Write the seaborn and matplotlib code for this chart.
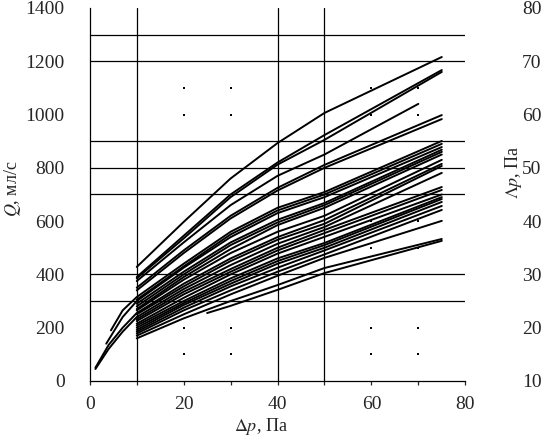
import pandas as pd
import matplotlib.pyplot as plt
import seaborn as sns

# Q, ml/s at pressure drops dp (Pa)
dp = [10, 20, 30, 40, 50, 75]
dp_70 = [10, 20, 30, 40, 50, 70]
dp_left_a = [1.2, 4, 7, 10, 20, 30, 40, 50, 75]
dp_left_b = [3.5, 7, 10, 20, 30, 40, 50, 75]
dp_left_c = [4.5, 7, 10, 20, 30, 40, 50, 75]
dp_late = [25, 30, 40, 50, 75]

q01 = [428, 597, 760, 893, 1006, 1216]
q02 = [390, 545, 700, 820, 923, 1167]
q03 = [385, 535, 690, 812, 905, 1160]
q04 = [375, 520, 660, 770, 850, 1040]
q05 = [350, 490, 620, 725, 811, 998]
q06 = [340, 480, 610, 715, 800, 983]
q07 = [190, 265, 315, 440, 560, 650, 709, 901]
q08 = [305, 430, 550, 640, 700, 890]
q09 = [140, 240, 300, 425, 540, 630, 690, 878]
q10 = [290, 410, 520, 605, 668, 868]
q11 = [280, 400, 510, 595, 660, 860]
q12 = [270, 390, 495, 585, 650, 850]
q13 = [265, 380, 480, 560, 620, 830]
q14 = [50, 135, 200, 255, 365, 460, 540, 604, 815]
q15 = [250, 355, 450, 530, 590, 807]
q16 = [45, 120, 185, 240, 345, 435, 515, 578, 781]
q17 = [232, 335, 420, 500, 567, 728]
q18 = [225, 325, 410, 490, 555, 717]
q19 = [215, 312, 400, 478, 541, 700]
q20 = [208, 300, 385, 460, 518, 690]
q21 = [200, 292, 375, 450, 510, 683]
q22 = [192, 285, 365, 440, 500, 672]
q23 = [185, 275, 355, 425, 490, 657]
q24 = [178, 265, 340, 410, 475, 642]
q25 = [170, 250, 325, 395, 462, 601]
q26 = [160, 235, 300, 360, 424, 533]
q27 = [255, 282, 342, 405, 526]

curves = [
    (dp, q01), (dp, q02), (dp, q03), (dp_70, q04), (dp, q05), (dp, q06),
    (dp_left_c, q07), (dp, q08), (dp_left_b, q09), (dp, q10), (dp, q11),
    (dp, q12), (dp, q13), (dp_left_a, q14), (dp, q15), (dp_left_a, q16),
    (dp, q17), (dp, q18), (dp, q19), (dp, q20), (dp, q21), (dp, q22),
    (dp, q23), (dp, q24), (dp, q25), (dp, q26), (dp_late, q27),
]

rows = []
for i, (xs, qs) in enumerate(curves):
    for x, q in zip(xs, qs):
        rows.append({"curve": i, "dp": x, "Q": q})
df = pd.DataFrame(rows)

# grid lines and stray dots seen on the picture
grid_x = [10, 40, 50]
grid_q = [300, 400, 700, 800, 900, 1200, 1300]
dots_x = [20, 30, 20, 30, 20, 30, 20, 30,
          60, 70, 60, 70, 60, 70, 60, 70, 60, 70, 60, 70]
dots_q = [100, 100, 200, 200, 1000, 1000, 1100, 1100,
          100, 100, 200, 200, 500, 500, 600, 600, 1000, 1000, 1100, 1100]

sns.set_style("white")
plt.rcParams["font.family"] = ["Liberation Serif", "DejaVu Serif"]
plt.rcParams["mathtext.fontset"] = "stix"

fig = plt.figure(figsize=(5.41, 4.43), dpi=100)
ax = fig.add_axes([0.166, 0.140, 0.694, 0.842])

for gx in grid_x:
    ax.axvline(gx, color="black", lw=0.9, zorder=1)
for gq in grid_q:
    ax.axhline(gq, color="black", lw=0.9, zorder=1)
ax.scatter(dots_x, dots_q, s=0.6, color="black", marker="s", linewidths=0)

sns.lineplot(data=df, x="dp", y="Q", units="curve", estimator=None,
             color="black", lw=1.4, ax=ax, zorder=3)

ax.set_xlim(0, 80)
ax.set_ylim(0, 1400)
ax.set_xticks([0, 20, 40, 60, 80])
ax.set_xticks([10, 30, 50, 70], minor=True)
ax.set_yticks(range(0, 1401, 200))
ax.tick_params(axis="x", which="both", direction="out", length=3, width=0.9,
               labelsize=14, pad=8, bottom=True)
ax.tick_params(axis="y", length=0, labelsize=14, pad=18)
for s in ["top", "right"]:
    ax.spines[s].set_visible(False)
for s in ["left", "bottom"]:
    ax.spines[s].set_color("black")
    ax.spines[s].set_linewidth(0.9)

ax.set_xlabel(r"$\Delta p$, Па", fontsize=13)
ax.xaxis.set_label_coords(0.456, -0.095)
ax.set_ylabel(r"$Q$, мл/с", fontsize=13)
ax.yaxis.set_label_coords(-0.178, 0.515)

ax2 = ax.twinx()
ax2.set_ylim(10, 80)
ax2.set_yticks(range(10, 81, 10))
ax2.tick_params(axis="y", length=0, labelsize=14, pad=41)
for s in ax2.spines.values():
    s.set_visible(False)
ax2.set_ylabel(r"$\Lambda p$, Па", fontsize=13)
ax2.yaxis.set_label_coords(1.10, 0.56)

fig.savefig("out.png", dpi=100)
